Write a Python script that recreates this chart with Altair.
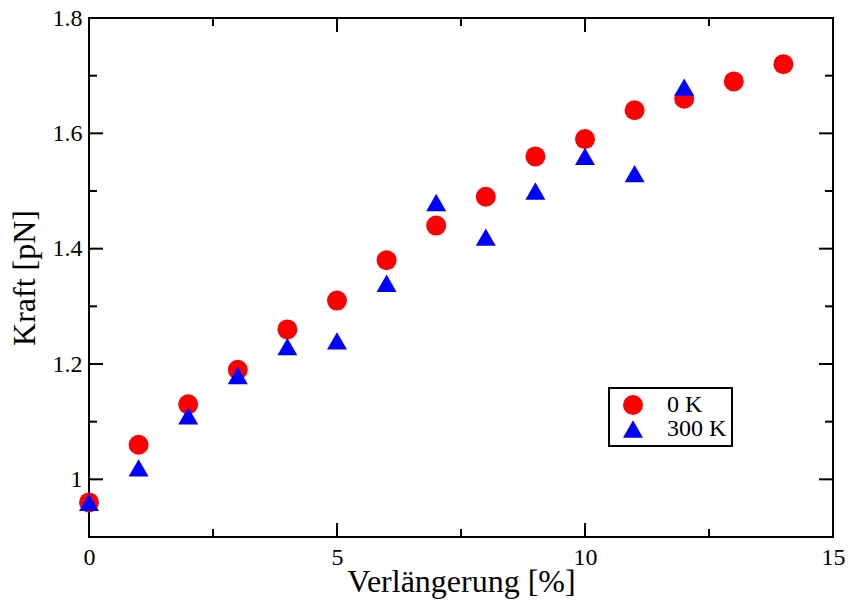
import altair as alt
import pandas as pd

# Force vs. elongation at two temperatures
strain_0k = list(range(15))
force_0k = [0.96, 1.06, 1.13, 1.19, 1.26, 1.31, 1.38, 1.44, 1.49, 1.56, 1.59, 1.64, 1.66, 1.69, 1.72]
strain_300k = list(range(13))
force_300k = [0.96, 1.02, 1.11, 1.18, 1.23, 1.24, 1.34, 1.48, 1.42, 1.50, 1.56, 1.53, 1.68]
series = ["0 K", "300 K"]

x_major = [0, 5, 10, 15]
x_minor = [2.5, 7.5, 12.5]
y_major = [1.0, 1.2, 1.4, 1.6, 1.8]
y_minor = [0.9, 1.1, 1.3, 1.5, 1.7]

W, H = 744, 519
FONT = "Liberation Serif"
MAJOR, MINOR = 14, 8

df = pd.DataFrame(
    {
        "strain": strain_0k + strain_300k,
        "force": force_0k + force_300k,
        "series": [series[0]] * len(strain_0k) + [series[1]] * len(strain_300k),
    }
)

xs = alt.Scale(domain=[0, 15], nice=False, zero=False)
ys = alt.Scale(domain=[0.9, 1.8], nice=False, zero=False)

x_axis = alt.Axis(
    values=x_major,
    ticks=False,
    domain=False,
    grid=False,
    labelFlush=False,
    labelPadding=8,
    title="Verlängerung [%]",
    titlePadding=-3,
)
y_axis = alt.Axis(
    values=y_major,
    format="~g",
    ticks=False,
    domain=False,
    grid=False,
    labelFlush=False,
    labelPadding=7,
    title="Kraft [pN]",
    titlePadding=11,
)

legend = alt.Legend(
    title=None,
    orient="none",
    legendX=520,
    legendY=370,
    padding=5,
    rowPadding=0,
    symbolSize=400,
    symbolStrokeWidth=0,
    symbolOffset=7,
    labelOffset=22,
    labelFontSize=24,
    labelFont=FONT,
    labelColor="black",
    strokeColor="black",
)

points = (
    alt.Chart(df)
    .mark_point(filled=True, size=400, opacity=1)
    .encode(
        x=alt.X("strain:Q", scale=xs, axis=x_axis),
        y=alt.Y("force:Q", scale=ys, axis=y_axis),
        color=alt.Color(
            "series:N",
            scale=alt.Scale(domain=series, range=["#ff0000", "#0000ff"]),
            legend=legend,
        ),
        shape=alt.Shape(
            "series:N",
            scale=alt.Scale(domain=series, range=["circle", "triangle-up"]),
            legend=legend,
        ),
        order=alt.Order("series:N"),
    )
)


def x_ticks(values, length):
    data = pd.DataFrame({"v": values})
    base = alt.Chart(data).mark_rule(color="black", strokeWidth=2)
    xenc = alt.X("v:Q", scale=xs, axis=x_axis)
    return [
        base.encode(x=xenc, y=alt.value(H), y2=alt.value(H - length)),
        base.encode(x=xenc, y=alt.value(0), y2=alt.value(length)),
    ]


def y_ticks(values, length):
    data = pd.DataFrame({"v": values})
    base = alt.Chart(data).mark_rule(color="black", strokeWidth=2)
    yenc = alt.Y("v:Q", scale=ys, axis=y_axis)
    return [
        base.encode(y=yenc, x=alt.value(0), x2=alt.value(length)),
        base.encode(y=yenc, x=alt.value(W), x2=alt.value(W - length)),
    ]


tick_layers = (
    x_ticks(x_major, MAJOR)
    + x_ticks(x_minor, MINOR)
    + y_ticks(y_major, MAJOR)
    + y_ticks(y_minor, MINOR)
)

chart = (
    alt.layer(points, *tick_layers)
    .properties(
        width=W,
        height=H,
        autosize=alt.AutoSizeParams(type="none"),
        padding={"left": 89, "top": 18, "right": 15, "bottom": 68},
        background="white",
    )
    .configure_view(stroke="black", strokeWidth=2)
    .configure_axis(
        labelFont=FONT,
        labelFontSize=24,
        labelColor="black",
        titleFont=FONT,
        titleFontSize=32,
        titleFontWeight="normal",
        titleColor="black",
    )
    .configure_legend(strokeWidth=2)
)

chart.save("out.html", embed_options={"renderer": "svg", "actions": False})
